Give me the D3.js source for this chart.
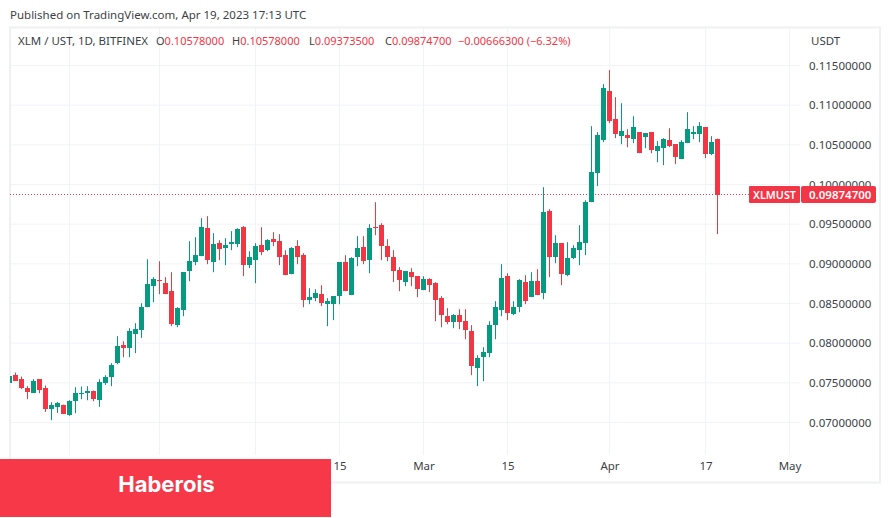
<!DOCTYPE html>
<html>
<head>
<meta charset="utf-8">
<script src="https://cdn.jsdelivr.net/npm/d3@7"></script>
<style>
    html, body { margin: 0; padding: 0; background: #fff; }
    svg { display: block; }
    text { font-family: "Noto Sans", sans-serif; }
    .axis path, .axis line { stroke: none; }
    .axis text { fill: #3c3f47; font-size: 11.5px; font-family: "Noto Sans", sans-serif; }
    .grid line { stroke: #f0f3f7; }
</style>
</head>
<body>
<div id="chart"></div>
<script>
// XLM / UST daily candles, Dec 22 2022 -> Apr 19 2023
const firstDay = Date.UTC(2022, 11, 22);

const opens = [
    0.07500,0.07596,0.07546,0.07432,0.07373,0.07546,0.07432,0.07168,0.07197,0.07226,
    0.07092,0.07273,0.07361,0.07373,0.07395,0.07281,0.07495,0.07571,0.07748,0.07974,
    0.07941,0.08113,0.08163,0.08453,0.08718,0.08794,0.08756,0.08655,0.08226,0.08416,
    0.08907,0.09021,0.09096,0.09449,0.09021,0.09260,0.09197,0.09248,0.09248,0.09462,
    0.08983,0.09046,0.09235,0.09172,0.09311,0.09285,0.09109,0.08869,0.09222,0.09109,
    0.08542,0.08567,0.08617,0.08491,0.08491,0.08592,0.09021,0.08605,0.09084,0.09210,
    0.09046,0.09462,0.09487,0.09222,0.09084,0.08920,0.08769,0.08895,0.08844,0.08668,
    0.08806,0.08756,0.08567,0.08340,0.08264,0.08353,0.08277,0.08151,0.07685,0.07823,
    0.07874,0.08227,0.08416,0.08844,0.08365,0.08453,0.08769,0.08580,0.08781,0.08630,
    0.09664,0.09084,0.09260,0.08857,0.09071,0.09172,0.09260,0.09777,0.10143,0.10559,
    0.11176,0.10823,0.10609,0.10622,0.10571,0.10660,0.10597,0.10660,0.10420,0.10458,
    0.10559,0.10508,0.10319,0.10521,0.10634,0.10634,0.10723,0.10382,0.10578];
const highs = [
    0.07590,0.07630,0.07579,0.07458,0.07546,0.07546,0.07466,0.07256,0.07260,0.07226,
    0.07281,0.07445,0.07453,0.07458,0.07403,0.07546,0.07596,0.07748,0.08088,0.08025,
    0.08189,0.08252,0.08504,0.09058,0.08832,0.09033,0.08832,0.08895,0.08453,0.08895,
    0.09285,0.09336,0.09575,0.09601,0.09386,0.09298,0.09323,0.09412,0.09449,0.09475,
    0.09159,0.09260,0.09462,0.09311,0.09399,0.09374,0.09172,0.09210,0.09298,0.09134,
    0.08693,0.08680,0.08731,0.08567,0.08592,0.09021,0.09109,0.09084,0.09349,0.09349,
    0.09500,0.09777,0.09512,0.09311,0.09172,0.08958,0.08907,0.08945,0.08844,0.08844,
    0.08819,0.08769,0.08592,0.08441,0.08365,0.08428,0.08428,0.08227,0.07848,0.07949,
    0.08277,0.08529,0.08996,0.08882,0.08529,0.08806,0.08857,0.08895,0.08932,0.09966,
    0.09689,0.09361,0.09260,0.09273,0.09235,0.09487,0.09802,0.10735,0.10660,0.11265,
    0.11441,0.11101,0.11025,0.10697,0.10861,0.10660,0.10647,0.10660,0.10546,0.10584,
    0.10710,0.10508,0.10559,0.10912,0.10735,0.10786,0.10723,0.10609,0.10578];
const lows = [
    0.07496,0.07525,0.07420,0.07294,0.07373,0.07369,0.07134,0.07029,0.07121,0.07109,
    0.07084,0.07117,0.07294,0.07281,0.07268,0.07197,0.07474,0.07458,0.07735,0.07823,
    0.07823,0.07874,0.08067,0.08453,0.08516,0.08617,0.08617,0.08214,0.08201,0.08340,
    0.08781,0.08983,0.09096,0.08996,0.08895,0.09046,0.08983,0.09172,0.09210,0.08844,
    0.08945,0.08756,0.09109,0.09159,0.09222,0.08983,0.08857,0.08869,0.08996,0.08453,
    0.08491,0.08529,0.08466,0.08214,0.08290,0.08491,0.08655,0.08605,0.08970,0.08996,
    0.08882,0.09361,0.09046,0.09033,0.08769,0.08655,0.08718,0.08718,0.08580,0.08668,
    0.08643,0.08277,0.08201,0.08239,0.08189,0.08176,0.08050,0.07596,0.07458,0.07521,
    0.07823,0.08050,0.08340,0.08290,0.08353,0.08390,0.08491,0.08580,0.08605,0.08554,
    0.08832,0.09008,0.08731,0.08844,0.09059,0.08983,0.09109,0.09777,0.09979,0.10534,
    0.10773,0.10584,0.10508,0.10470,0.10521,0.10395,0.10458,0.10395,0.10281,0.10244,
    0.10470,0.10256,0.10319,0.10521,0.10571,0.10534,0.10332,0.10370,0.093735];
const closes = [
    0.07584,0.07525,0.07432,0.07382,0.07521,0.07407,0.07172,0.07218,0.07243,0.07109,
    0.07268,0.07369,0.07373,0.07395,0.07294,0.07508,0.07571,0.07722,0.07962,0.07941,
    0.08151,0.08176,0.08453,0.08743,0.08806,0.08781,0.08617,0.08239,0.08441,0.08895,
    0.09033,0.09109,0.09462,0.09046,0.09248,0.09185,0.09235,0.09273,0.09437,0.08983,
    0.09084,0.09222,0.09147,0.09298,0.09273,0.09084,0.08857,0.09197,0.09084,0.08542,
    0.08580,0.08630,0.08504,0.08529,0.08592,0.09021,0.08655,0.09071,0.09197,0.09033,
    0.09449,0.09449,0.09222,0.09084,0.08907,0.08794,0.08907,0.08832,0.08680,0.08806,
    0.08731,0.08542,0.08353,0.08264,0.08353,0.08264,0.08164,0.07710,0.07811,0.07886,
    0.08227,0.08453,0.08819,0.08378,0.08453,0.08794,0.08529,0.08781,0.08605,0.09651,
    0.09084,0.09260,0.08870,0.09071,0.09197,0.09273,0.09777,0.10155,0.10622,0.11214,
    0.10798,0.10634,0.10672,0.10584,0.10723,0.10395,0.10647,0.10433,0.10483,0.10571,
    0.10483,0.10344,0.10534,0.10697,0.10660,0.10735,0.10382,0.10534,0.098747];

const priceTicks = [0.07, 0.075, 0.08, 0.085, 0.09, 0.095, 0.10, 0.105, 0.11, 0.115];
const dateTicks = [Date.UTC(2023,0,1), Date.UTC(2023,0,16), Date.UTC(2023,1,1), Date.UTC(2023,1,15),
    Date.UTC(2023,2,1), Date.UTC(2023,2,15), Date.UTC(2023,3,1), Date.UTC(2023,3,17), Date.UTC(2023,4,1)];
const dateLabels = ["", "", "", "15", "Mar", "15", "Apr", "17", "May"];

const publishedText = "Published on TradingView.com, Apr 19, 2023 17:13 UTC";
const symbolText = "XLM / UST, 1D, BITFINEX";
const ohlcLabels = ["O", "H", "L", "C"];
const ohlcValues = ["0.10578000", "0.10578000", "0.09373500", "0.09874700"];
const changeText = "\u22120.00666300 (\u22126.32%)";
const lastPrice = 0.098747;

const UP = "#089981", DOWN = "#f23645";
const width = 891, height = 518;
const pane = { left: 10, top: 27.5, right: 800, bottom: 455 };

const dayMs = 86400000;
const candles = opens.map((o, i) => ({
    date: firstDay + i * dayMs, o: o, h: highs[i], l: lows[i], c: closes[i]
}));

const svg = d3.select("#chart").append("svg")
    .attr("width", width)
    .attr("height", height);

// scales
const x = d3.scaleUtc()
    .domain([firstDay, Date.UTC(2023,4,1)])
    .range([9.5, 789.5]);
const y = d3.scaleLinear()
    .domain([0.07, 0.115])
    .range([422.5, 65.5]);

// grid
const grid = svg.append("g").attr("class", "grid");
grid.selectAll(".h").data(priceTicks).enter().append("line")
    .attr("x1", pane.left).attr("x2", pane.right)
    .attr("y1", d => y(d)).attr("y2", d => y(d));
grid.selectAll(".v").data(dateTicks).enter().append("line")
    .attr("x1", d => x(d)).attr("x2", d => x(d))
    .attr("y1", pane.top).attr("y2", pane.bottom);

// outer frame
svg.append("rect")
    .attr("x", 10).attr("y", 27.5)
    .attr("width", 870).attr("height", 455)
    .attr("fill", "none")
    .attr("stroke", "#eff0f2")
    .attr("stroke-width", 2);

svg.append("clipPath").attr("id", "pane-clip").append("rect")
    .attr("x", 10).attr("y", pane.top)
    .attr("width", pane.right - 10).attr("height", pane.bottom - pane.top);

// last price line
const lastY = Math.floor(y(lastPrice)) + 0.5;
svg.append("line")
    .attr("x1", pane.left).attr("x2", 749)
    .attr("y1", lastY).attr("y2", lastY)
    .attr("stroke", DOWN)
    .attr("stroke-dasharray", "1 2");

// candles
const candleGroup = svg.append("g").attr("clip-path", "url(#pane-clip)");
const colour = d => d.c >= d.o ? UP : DOWN;

candleGroup.selectAll(".wick").data(candles).enter().append("line")
    .attr("class", "wick")
    .attr("x1", d => Math.floor(x(d.date)) + 0.5)
    .attr("x2", d => Math.floor(x(d.date)) + 0.5)
    .attr("y1", d => y(d.h))
    .attr("y2", d => y(d.l))
    .attr("stroke", colour);

candleGroup.selectAll(".body").data(candles).enter().append("rect")
    .attr("class", "body")
    .attr("x", d => Math.floor(x(d.date)) - 2)
    .attr("width", 5)
    .attr("y", d => Math.round(y(Math.max(d.o, d.c))))
    .attr("height", d => Math.max(1, Math.round(Math.abs(y(d.o) - y(d.c)))))
    .attr("fill", colour);

// axes
const yAxis = d3.axisRight(y)
    .tickValues(priceTicks)
    .tickSize(0)
    .tickFormat(d3.format(".8f"));
svg.append("g")
    .attr("class", "axis y-axis")
    .attr("transform", "translate(809,0)")
    .call(yAxis)
    .selectAll("text").attr("x", 0);

const xAxis = d3.axisBottom(x)
    .tickValues(dateTicks)
    .tickSize(0)
    .tickFormat((d, i) => dateLabels[i]);
svg.append("g")
    .attr("class", "axis x-axis")
    .attr("transform", "translate(0,459)")
    .call(xAxis);

svg.append("text")
    .attr("x", 811).attr("y", 44.5)
    .attr("font-size", 11.5)
    .attr("fill", "#3c3f47")
    .text("USDT");

// header texts
svg.append("text")
    .attr("x", 10).attr("y", 19)
    .attr("font-size", 11.5)
    .attr("fill", "#3c3f47")
    .text(publishedText);

const legend = svg.append("text")
    .attr("y", 45)
    .attr("font-size", 11)
    .attr("fill", "#3c3f47");
legend.append("tspan").attr("x", 18).style("font-size", "11.5px").text(symbolText);
const legendX = [156, 232, 309, 385];
ohlcLabels.forEach((lab, i) => {
    legend.append("tspan").attr("x", legendX[i]).text(lab);
    legend.append("tspan").attr("fill", DOWN).text(ohlcValues[i]);
});
legend.append("tspan").attr("x", 458).attr("fill", DOWN).text(changeText);

// price tag sits on top of the 0.10 label
svg.append("rect")
    .attr("x", 749).attr("y", lastY - 8.5)
    .attr("width", 51).attr("height", 17)
    .attr("rx", 1)
    .attr("fill", DOWN);
svg.append("rect")
    .attr("x", 801).attr("y", lastY - 8.5)
    .attr("width", 75).attr("height", 17)
    .attr("rx", 2)
    .attr("fill", DOWN);
svg.append("text")
    .attr("x", 753).attr("y", lastY + 4)
    .attr("font-size", 10.8)
    .attr("font-weight", 600)
    .attr("fill", "#fff")
    .text("XLMUST");
svg.append("text")
    .attr("x", 809).attr("y", lastY + 4)
    .attr("font-size", 11.5)
    .attr("font-weight", 600)
    .attr("fill", "#fff")
    .text(d3.format(".8f")(lastPrice));

// watermark banner
svg.append("rect")
    .attr("x", 0).attr("y", 459)
    .attr("width", 331).attr("height", 58)
    .attr("fill", "#f63849");
svg.append("text")
    .attr("x", 166.5).attr("y", 492)
    .attr("text-anchor", "middle")
    .attr("fill", "#fff")
    .style("font-family", "Inter, sans-serif")
    .style("font-weight", 700)
    .style("font-size", "22px")
    .text("Haberois");
</script>
</body>
</html>
